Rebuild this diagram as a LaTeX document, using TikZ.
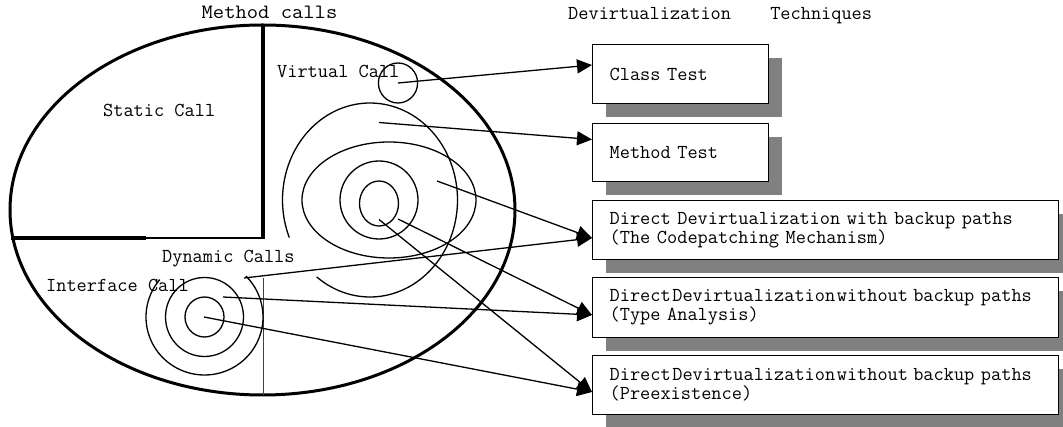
\documentclass[tikz,border=0pt]{standalone}
\usepackage{fontspec}
\usepackage{graphicx}
\newfontfamily\courfont{Latin Modern Mono}
\usetikzlibrary{arrows.meta,shadows,calc}

\begin{document}
\begin{tikzpicture}[x=1pt,y=-1pt,
  every node/.style={font=\courfont\fontsize{19.77}{19}\selectfont, inner sep=0pt},
  caption/.style={anchor=base west},
  outline/.style={line width=3pt},
  wall/.style={line width=3.3pt},
  ring/.style={line width=1.3pt},
  link/.style={line width=1.3pt, -{Triangle[length=15pt,width=14pt]}},
  techbox/.style={draw, line width=1.3pt, fill=white, anchor=north west,
    align=left, inner xsep=17pt, inner ysep=0pt,
    general shadow={fill=gray, shadow xshift=13.5pt, shadow yshift=-13.5pt}},
  narrow/.style={techbox, text width=142pt},
  wide/.style={techbox, text width=432pt}]

\useasboundingbox (0,0) rectangle (1063,427);

% headings
\node[anchor=base] (hcalls) at (269.5,18.5) {\scalebox{1.11}[1.03]{Method calls}};
\node[caption] (htech) at (568,19.5) {Devirtualization\hspace{29pt} Techniques};

% the set of all method calls
\draw[outline] (262.5,210) ellipse [x radius=252.5pt, y radius=185pt];
\draw[wall] (263,25) -- (263,238);
\draw[line width=3.6pt] (11,238) -- (146,238);
\draw[line width=2.8pt] (146,238) -- (264.6,238);
\draw[line width=0.9pt, black!75] (263,278) -- (263,395);

\node[caption] (lstatic) at (103,116.5) {Static Call};
\node[caption] (lvirtual) at (277,77.5) {Virtual Call};
\node[caption] (ldynamic) at (162,263) {Dynamic Calls};
\node[caption] (linterface) at (46,291.5) {Interface Call};

% virtual call regions
\draw[ring] (398,83) ellipse [x radius=19.6pt, y radius=20pt];
\draw[ring] plot[domain=157.2:487.5, samples=120, smooth]
  ({370+87.5*cos(\x)},{200+97*sin(\x)});
\draw[ring] (389,200) ellipse [x radius=87pt, y radius=58pt];
\draw[ring] (379,200) ellipse [x radius=39pt, y radius=39pt];
\draw[ring] (379,203.5) ellipse [x radius=19.5pt, y radius=22.5pt];

% interface call regions
\draw[ring] plot[domain=-44.9:220.2, samples=100, smooth]
  ({204.5+58.5*cos(\x)},{317+58*sin(\x)});
\draw[ring] (204.5,317) ellipse [x radius=39pt, y radius=39.5pt];
\draw[ring] (204.5,317) ellipse [x radius=19.5pt, y radius=20pt];

% sources of the connectors
\coordinate (sclass) at (398,83);
\coordinate (smethod) at (379,122.5);
\coordinate (scode) at (437,181);
\coordinate (sdyn) at (244,278);
\coordinate (stype) at (398,219);
\coordinate (sitype) at (223,297);
\coordinate (spre) at (379,219.5);
\coordinate (sipre) at (204,317);

% devirtualization techniques
\node[narrow, minimum height=59pt] (classtest) at (592,44) {Class Test};
\node[narrow, minimum height=58pt] (methodtest) at (592,123) {Method Test};
\node[wide, minimum height=59pt] (codepatch) at (592,200)
  {\mbox{Direct Devirtualization with backup paths}\\\mbox{(The Codepatching Mechanism)}};
\node[wide, minimum height=60pt] (typeana) at (592,277)
  {\mbox{Direct\hspace{1.6pt}Devirtualization\hspace{1.6pt}without\hspace{5.2pt}backup paths}\\\mbox{(Type Analysis)}};
\node[wide, minimum height=59pt] (preex) at (592,355)
  {\mbox{Direct\hspace{1.6pt}Devirtualization\hspace{1.6pt}without\hspace{5.2pt}backup paths}\\\mbox{(Preexistence)}};

% connectors
\draw[link] (sclass) -- ($(classtest.north west)+(0,21)$);
\draw[link] (smethod) -- ($(methodtest.north west)+(0,16.5)$);
\draw[link] (scode) -- ($(codepatch.north west)+(0,38)$);
\draw[link] (sdyn) -- ($(codepatch.north west)+(0,38)$);
\draw[link] (stype) -- ($(typeana.north west)+(0,38)$);
\draw[link] (sitype) -- ($(typeana.north west)+(0,38)$);
\draw[link] (spre) -- ($(preex.north west)+(0,37)$);
\draw[link] (sipre) -- ($(preex.north west)+(0,37)$);
\end{tikzpicture}
\end{document}
